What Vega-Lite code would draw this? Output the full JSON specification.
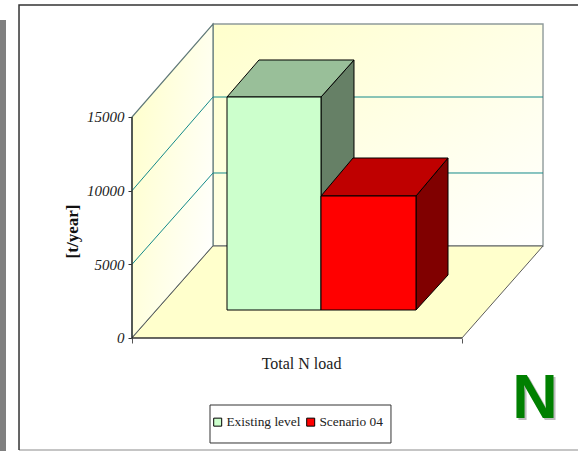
{
  "$schema": "https://vega.github.io/schema/vega-lite/v6.json",
  "width": 578,
  "height": 451,
  "autosize": {"type": "none"},
  "padding": 0,
  "background": "white",
  "view": {"stroke": null},
  "datasets": {
    "strip": [{"x": -0.4, "x2": -0.3818, "y": 21584, "y2": -7670}],
    "frameDark": [
      {"edge": "left", "x": -0.3424, "y": -7602},
      {"edge": "left", "x": -0.3424, "y": 22602},
      {"edge": "left", "x": 1.3515, "y": 22602}
    ],
    "frameLight": [
      {"x": -0.3424, "y": -7602},
      {"x": 1.3515, "y": -7602}
    ],
    "backWall": [{"x": 0.2455, "x2": 1.2455, "y": 6244, "y2": 21312}],
    "sideWall": [
      {"x": 0, "y": 0, "y2": 15000},
      {"x": 0.2455, "y": 6244, "y2": 21312}
    ],
    "floor": [
      {"y": 0, "x": 0, "x2": 1},
      {"y": 6244, "x": 0.2455, "x2": 1.2455}
    ],
    "grid": [
      {"level": 5000, "x": 0, "y": 5000},
      {"level": 5000, "x": 0.2455, "y": 11199},
      {"level": 5000, "x": 1.2455, "y": 11199},
      {"level": 10000, "x": 0, "y": 10000},
      {"level": 10000, "x": 0.2455, "y": 16357},
      {"level": 10000, "x": 1.2455, "y": 16357}
    ],
    "axisLines": [
      {"x": 0, "y": 15000},
      {"x": 0, "y": 0},
      {"x": 1, "y": 0}
    ],
    "barFront": [
      {"series": "Existing level", "load": 14457, "x": 0.2879, "x2": 0.5727, "y": 1900, "y2": 16357},
      {"series": "Scenario 04", "load": 7738, "x": 0.5727, "x2": 0.8606, "y": 1900, "y2": 9638}
    ],
    "barSide": [
      {"series": "Existing level", "x": 0.5727, "y": 1900, "y2": 16357},
      {"series": "Existing level", "x": 0.6727, "y": 4276, "y2": 18869},
      {"series": "Scenario 04", "x": 0.8606, "y": 1900, "y2": 9638},
      {"series": "Scenario 04", "x": 0.9576, "y": 4276, "y2": 12217}
    ],
    "barTop": [
      {"series": "Existing level", "y": 16357, "x": 0.2879, "x2": 0.5727},
      {"series": "Existing level", "y": 18869, "x": 0.3848, "x2": 0.6727},
      {"series": "Scenario 04", "y": 9638, "x": 0.5727, "x2": 0.8606},
      {"series": "Scenario 04", "y": 12217, "x": 0.6697, "x2": 0.9576}
    ],
    "legendBox": [{"x": 0.2364, "x2": 0.7848, "y": -4548, "y2": -7127}],
    "badge": [{"x": 1.2212, "y": -5430, "letter": "N"}]
  },
  "encoding": {
    "x": {
      "field": "x",
      "type": "quantitative",
      "scale": {"domain": [-0.4, 1.35152], "range": [0, 578], "nice": false, "zero": false},
      "axis": {
        "orient": "bottom",
        "offset": -113,
        "values": [0, 1],
        "labels": false,
        "domain": false,
        "grid": false,
        "ticks": true,
        "tickSize": 5,
        "tickColor": "#555555",
        "title": "Total N load",
        "titleFont": "Liberation Serif",
        "titleFontSize": 16,
        "titleFontWeight": "normal",
        "titleColor": "#222222",
        "titleX": 301,
        "titleY": 30,
        "titleAlign": "center",
        "titleBaseline": "alphabetic"
      }
    },
    "y": {
      "field": "y",
      "type": "quantitative",
      "scale": {"domain": [-7670, 22941], "range": [451, 0], "nice": false, "zero": false},
      "axis": {
        "orient": "left",
        "offset": -132,
        "values": [0, 5000, 10000, 15000],
        "format": "d",
        "domain": false,
        "grid": false,
        "tickSize": 4,
        "tickColor": "#333333",
        "labelFont": "Liberation Serif",
        "labelFontStyle": "italic",
        "labelFontSize": 15,
        "labelColor": "#222222",
        "labelPadding": 4,
        "title": "[t/year]",
        "titleFont": "Liberation Serif",
        "titleFontSize": 17,
        "titleFontWeight": "bold",
        "titleColor": "#111111",
        "titleX": -60,
        "titleY": 231,
        "titleAlign": "center",
        "titleBaseline": "middle"
      }
    }
  },
  "layer": [
    {
      "data": {"name": "strip"},
      "mark": {"type": "rect", "fill": "#808080"},
      "encoding": {"x2": {"field": "x2"}, "y2": {"field": "y2"}}
    },
    {
      "data": {"name": "frameLight"},
      "mark": {"type": "line", "stroke": "#8c8c8c", "strokeWidth": 1.2},
      "encoding": {"order": {"field": "x"}}
    },
    {
      "data": {"name": "frameDark"},
      "mark": {"type": "line", "stroke": "#333333", "strokeWidth": 1.5},
      "encoding": {"order": {"field": "y"}}
    },
    {
      "data": {"name": "backWall"},
      "mark": {
        "type": "rect",
        "stroke": "#8f9a9a",
        "strokeWidth": 1.4,
        "fill": {
          "gradient": "linear", "x1": 0, "y1": 0, "x2": 1, "y2": 1,
          "stops": [
            {"offset": 0, "color": "#FFFFCC"},
            {"offset": 1, "color": "#FFFFFF"}
          ]
        }
      },
      "encoding": {"x2": {"field": "x2"}, "y2": {"field": "y2"}}
    },
    {
      "data": {"name": "sideWall"},
      "mark": {
        "type": "area",
        "orient": "vertical",
        "stroke": "#5f7878",
        "strokeWidth": 1.2,
        "fill": {
          "gradient": "linear", "x1": 0, "y1": 0.2, "x2": 1, "y2": 0.8,
          "stops": [
            {"offset": 0, "color": "#FFFFCC"},
            {"offset": 1, "color": "#FFFFFF"}
          ]
        }
      },
      "encoding": {"y2": {"field": "y2"}}
    },
    {
      "data": {"name": "floor"},
      "mark": {"type": "area", "orient": "horizontal", "fill": "#FFFFCC", "stroke": "#5c5c5c", "strokeWidth": 1},
      "encoding": {"x2": {"field": "x2"}}
    },
    {
      "data": {"name": "grid"},
      "mark": {"type": "line", "stroke": "#148a8a", "strokeWidth": 1},
      "encoding": {"detail": {"field": "level"}, "order": {"field": "x"}}
    },
    {
      "data": {"name": "axisLines"},
      "mark": {"type": "line", "stroke": "#222222", "strokeWidth": 1.2},
      "encoding": {"order": {"field": "x"}}
    },
    {
      "data": {"name": "barSide"},
      "mark": {"type": "area", "orient": "vertical", "stroke": "#000000", "strokeWidth": 1},
      "encoding": {
        "y2": {"field": "y2"},
        "fill": {
          "field": "series",
          "type": "nominal",
          "scale": {"domain": ["Existing level", "Scenario 04"], "range": ["#668066", "#800000"]},
          "legend": null
        }
      }
    },
    {
      "data": {"name": "barTop"},
      "mark": {"type": "area", "orient": "horizontal", "stroke": "#000000", "strokeWidth": 1},
      "encoding": {
        "x2": {"field": "x2"},
        "fill": {
          "field": "series",
          "type": "nominal",
          "scale": {"domain": ["Existing level", "Scenario 04"], "range": ["#99BF99", "#BF0000"]},
          "legend": null
        }
      }
    },
    {
      "data": {"name": "legendBox"},
      "mark": {"type": "rect", "fill": "#FFFFFF", "stroke": "#333333", "strokeWidth": 1},
      "encoding": {"x2": {"field": "x2"}, "y2": {"field": "y2"}}
    },
    {
      "data": {"name": "barFront"},
      "mark": {"type": "rect", "stroke": "#000000", "strokeWidth": 1},
      "encoding": {
        "x2": {"field": "x2"},
        "y2": {"field": "y2"},
        "fill": {
          "field": "series",
          "type": "nominal",
          "scale": {"domain": ["Existing level", "Scenario 04"], "range": ["#CCFFCC", "#FF0000"]},
          "legend": {
            "title": null,
            "orient": "none",
            "legendX": 211,
            "legendY": 415,
            "direction": "horizontal",
            "columns": 2,
            "padding": 0,
            "symbolType": "square",
            "symbolSize": 64,
            "symbolStrokeColor": "#000000",
            "symbolStrokeWidth": 1,
            "labelFont": "Liberation Serif",
            "labelFontSize": 13.4,
            "labelColor": "#222222",
            "labelOffset": 2,
            "columnPadding": 3
          }
        }
      }
    },
    {
      "data": {"name": "badge"},
      "mark": {"type": "text", "font": "Liberation Sans", "fontWeight": "bold", "fontSize": 63, "align": "center", "baseline": "alphabetic", "fill": "#bdbdbd", "dx": 2, "dy": 2},
      "encoding": {"text": {"field": "letter"}}
    },
    {
      "data": {"name": "badge"},
      "mark": {"type": "text", "font": "Liberation Sans", "fontWeight": "bold", "fontSize": 63, "align": "center", "baseline": "alphabetic", "fill": "#008000"},
      "encoding": {"text": {"field": "letter"}}
    }
  ],
  "resolve": {"scale": {"fill": "independent"}}
}
